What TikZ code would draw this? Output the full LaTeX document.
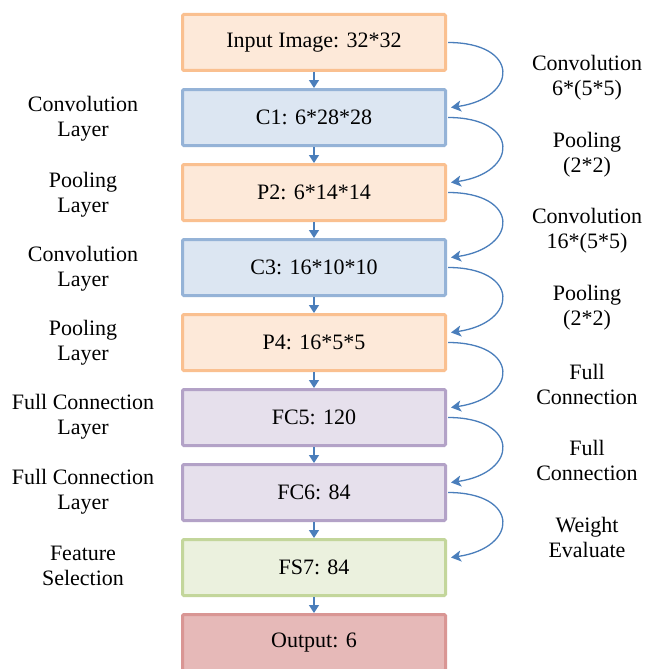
\documentclass[tikz,border=0pt]{standalone}
\usepackage{fontspec}
\setmainfont{Liberation Serif}
\usetikzlibrary{arrows.meta,calc}
\definecolor{orB}{HTML}{FAC090}\definecolor{orF}{HTML}{FDE9D9}
\definecolor{blB}{HTML}{95B3D7}\definecolor{blF}{HTML}{DCE6F2}
\definecolor{puB}{HTML}{B3A2C7}\definecolor{puF}{HTML}{E6E0EC}
\definecolor{grB}{HTML}{C3D69B}\definecolor{grF}{HTML}{EBF1DE}
\definecolor{rdB}{HTML}{D99694}\definecolor{rdF}{HTML}{E6B9B8}
\definecolor{arr}{HTML}{4A7EBB}
\tikzset{
  layerbox/.style={rectangle, line width=3pt, rounded corners=1.2pt, minimum width=263pt, minimum height=56pt, inner sep=0pt, font=\fontsize{22}{25}\selectfont},
  orbox/.style={layerbox, draw=orB, fill=orF},
  blbox/.style={layerbox, draw=blB, fill=blF},
  pubox/.style={layerbox, draw=puB, fill=puF},
  grbox/.style={layerbox, draw=grB, fill=grF},
  rdbox/.style={layerbox, draw=rdB, fill=rdF},
  lbl/.style={align=center, inner sep=0pt, font=\fontsize{22}{25}\selectfont},
  dn/.style={draw=arr, line width=1.4pt, -{Triangle[length=8pt,width=10pt]}},
  cv/.style={draw=arr, line width=1.3pt, -{Stealth[length=10pt,width=11pt,inset=2.5pt]}},
}
\begin{document}
\begin{tikzpicture}[x=1pt,y=-1pt]
\useasboundingbox[fill=white] (0,0) rectangle (647,669);
\node[orbox] (b0) at (314,42.5) {Input Image: 32*32};
\node[blbox] (b1) at (314,117.5) {C1: 6*28*28};
\node[orbox] (b2) at (314,192.5) {P2: 6*14*14};
\node[blbox] (b3) at (314,267.5) {C3: 16*10*10};
\node[orbox] (b4) at (314,342.5) {P4: 16*5*5};
\node[pubox] (b5) at (314,417.5) {FC5: 120};
\node[pubox] (b6) at (314,492.5) {FC6: 84};
\node[grbox] (b7) at (314,567.5) {FS7: 84};
\node[rdbox] (b8) at (314,642.5) {Output: 6};
\foreach \i/\j in {0/1,1/2,2/3,3/4,4/5,5/6,6/7,7/8}{
  \draw[dn] (b\i.south) -- (b\j.north);
}
\foreach \i/\j in {0/1,1/2,2/3,3/4,4/5,5/6,6/7}{
  \coordinate (s\i) at ($(b\i.east)+(1,0)$);
  \coordinate (e\i) at ($(b\j.east)+(4,-10)$);
  \draw[cv] (s\i) .. controls ($(s\i)+(72,0)$) and ($(e\i)+(68,-10)$) .. (e\i);
}
% left labels
\node[lbl] (l1) at (83,119) {Convolution\\Layer};
\node[lbl] (l2) at (83,194.5) {Pooling\\Layer};
\node[lbl] (l3) at (83,268.5) {Convolution\\Layer};
\node[lbl] (l4) at (83,342.5) {Pooling\\Layer};
\node[lbl] (l5) at (83,417) {Full Connection\\Layer};
\node[lbl] (l6) at (83,491.5) {Full Connection\\Layer};
\node[lbl] (l7) at (83,565.5) {Feature\\Selection};
% right labels
\node[lbl] (r0) at (587,77.5) {Convolution\\6*(5*5)};
\node[lbl] (r1) at (587,154.5) {Pooling\\(2*2)};
\node[lbl] (r2) at (587,231) {Convolution\\16*(5*5)};
\node[lbl] (r3) at (587,308) {Pooling\\(2*2)};
\node[lbl] (r4) at (587,384.5) {Full\\Connection};
\node[lbl] (r5) at (587,460) {Full\\Connection};
\node[lbl] (r6) at (587,537) {Weight\\Evaluate};
\end{tikzpicture}
\end{document}
